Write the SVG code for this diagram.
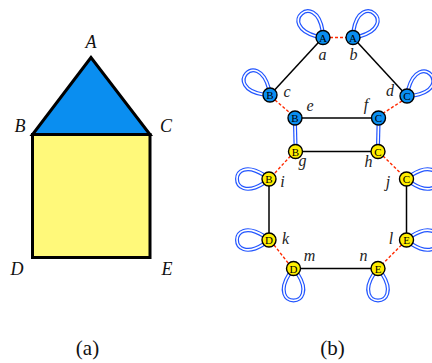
<svg xmlns="http://www.w3.org/2000/svg" xmlns:xlink="http://www.w3.org/1999/xlink" width="432" height="363" viewBox="0 0 432 363">
<style>
.lbl{font-family:"Liberation Serif","DejaVu Serif",serif;font-style:italic;font-size:18px;fill:#111;text-anchor:middle}
.sl{font-family:"Liberation Serif","DejaVu Serif",serif;font-style:italic;font-size:16px;fill:#222;text-anchor:middle}
.cap{font-family:"Liberation Serif","DejaVu Serif",serif;font-size:21px;fill:#111;text-anchor:middle}
.nt{font-family:"Liberation Serif","DejaVu Serif",serif;font-size:11px;fill:#000;text-anchor:middle}
.nb{fill:#0a8ef0;stroke:#000;stroke-width:1.4}
.ny{fill:#ffee00;stroke:#000;stroke-width:1.4}
.edge{stroke:#000;stroke-width:1.5;fill:none}
.dash{stroke:#ff2a00;stroke-width:1.4;stroke-dasharray:3,2;fill:none}
.lo{stroke:#2255ff;stroke-width:4;fill:none}
.li{stroke:#fff;stroke-width:1.6;fill:none}
</style>
<defs>
<path id="loop" d="M -4,-5 C -27,-41 27,-41 4,-5"/>
</defs>
<g id="house">
<polygon points="91,57.5 32.5,134.5 150,134.5" fill="#0a8ef0" stroke="#000" stroke-width="3" stroke-linejoin="miter"/>
<rect x="32.5" y="134.5" width="117.5" height="123" fill="#fff97a" stroke="#000" stroke-width="3"/>
<text class="lbl" x="91" y="48">A</text>
<text class="lbl" x="20" y="132">B</text>
<text class="lbl" x="166" y="132">C</text>
<text class="lbl" x="17" y="275">D</text>
<text class="lbl" x="167" y="275">E</text>
</g>
<g id="loops">
<g transform="translate(323,37.5) rotate(-42)"><use xlink:href="#loop" class="lo"/><use xlink:href="#loop" class="li"/></g>
<g transform="translate(353,37.5) rotate(42)"><use xlink:href="#loop" class="lo"/><use xlink:href="#loop" class="li"/></g>
<g transform="translate(270,95) rotate(-48)"><use xlink:href="#loop" class="lo"/><use xlink:href="#loop" class="li"/></g>
<g transform="translate(407,96) rotate(48)"><use xlink:href="#loop" class="lo"/><use xlink:href="#loop" class="li"/></g>
<g transform="translate(269,179) rotate(-90)"><use xlink:href="#loop" class="lo"/><use xlink:href="#loop" class="li"/></g>
<g transform="translate(269,240) rotate(-90)"><use xlink:href="#loop" class="lo"/><use xlink:href="#loop" class="li"/></g>
<g transform="translate(406.5,179) rotate(90)"><use xlink:href="#loop" class="lo"/><use xlink:href="#loop" class="li"/></g>
<g transform="translate(406.5,240) rotate(90)"><use xlink:href="#loop" class="lo"/><use xlink:href="#loop" class="li"/></g>
<g transform="translate(293.5,268.5) rotate(180)"><use xlink:href="#loop" class="lo"/><use xlink:href="#loop" class="li"/></g>
<g transform="translate(378,268.5) rotate(180)"><use xlink:href="#loop" class="lo"/><use xlink:href="#loop" class="li"/></g>
</g>
<g id="connectors">
<line class="edge" x1="323" y1="37.5" x2="270" y2="95"/>
<line class="edge" x1="353" y1="37.5" x2="407" y2="96"/>
<line class="edge" x1="295" y1="118" x2="378.5" y2="118"/>
<line class="edge" x1="295.5" y1="151.5" x2="378" y2="151.5"/>
<line class="edge" x1="269" y1="179" x2="269" y2="240"/>
<line class="edge" x1="406.5" y1="179" x2="406.5" y2="240"/>
<line class="edge" x1="293.5" y1="268.5" x2="378" y2="268.5"/>
<line class="dash" x1="330" y1="37.5" x2="346" y2="37.5"/>
<line class="dash" x1="275" y1="100" x2="290" y2="113"/>
<line class="dash" x1="402" y1="101" x2="383.5" y2="113"/>
<line class="dash" x1="290.5" y1="156" x2="274" y2="174"/>
<line class="dash" x1="383" y1="156" x2="401.5" y2="174"/>
<line class="dash" x1="274" y1="245" x2="288.5" y2="263.5"/>
<line class="dash" x1="401.5" y1="245" x2="383" y2="263.5"/>
<line class="lo" x1="295" y1="125" x2="295.5" y2="145"/>
<line class="li" x1="295" y1="125" x2="295.5" y2="145"/>
<line class="lo" x1="378.5" y1="125" x2="378" y2="145"/>
<line class="li" x1="378.5" y1="125" x2="378" y2="145"/>
</g>
<g id="nA1"><circle class="nb" cx="323" cy="37.5" r="7"/><text class="nt" x="323" y="41.5">A</text></g>
<g id="nA2"><circle class="nb" cx="353" cy="37.5" r="7"/><text class="nt" x="353" y="41.5">A</text></g>
<g id="nB1"><circle class="nb" cx="270" cy="95" r="7"/><text class="nt" x="270" y="99">B</text></g>
<g id="nC1"><circle class="nb" cx="407" cy="96" r="7"/><text class="nt" x="407" y="100">C</text></g>
<g id="nB2"><circle class="nb" cx="295" cy="118" r="7"/><text class="nt" x="295" y="122">B</text></g>
<g id="nC2"><circle class="nb" cx="378.5" cy="118" r="7"/><text class="nt" x="378.5" y="122">C</text></g>
<g id="nB3"><circle class="ny" cx="295.5" cy="151.5" r="7"/><text class="nt" x="295.5" y="155.5">B</text></g>
<g id="nC3"><circle class="ny" cx="378" cy="151.5" r="7"/><text class="nt" x="378" y="155.5">C</text></g>
<g id="nB4"><circle class="ny" cx="269" cy="179" r="7"/><text class="nt" x="269" y="183">B</text></g>
<g id="nC4"><circle class="ny" cx="406.5" cy="179" r="7"/><text class="nt" x="406.5" y="183">C</text></g>
<g id="nD1"><circle class="ny" cx="269" cy="240" r="7"/><text class="nt" x="269" y="244">D</text></g>
<g id="nE1"><circle class="ny" cx="406.5" cy="240" r="7"/><text class="nt" x="406.5" y="244">E</text></g>
<g id="nD2"><circle class="ny" cx="293.5" cy="268.5" r="7"/><text class="nt" x="293.5" y="272.5">D</text></g>
<g id="nE2"><circle class="ny" cx="378" cy="268.5" r="7"/><text class="nt" x="378" y="272.5">E</text></g>
<g id="labels">
<text class="sl" x="322.5" y="59.5">a</text>
<text class="sl" x="353.5" y="60">b</text>
<text class="sl" x="287" y="96.5">c</text>
<text class="sl" x="390" y="96">d</text>
<text class="sl" x="310" y="110.5">e</text>
<text class="sl" x="366" y="110">f</text>
<text class="sl" x="302.5" y="166">g</text>
<text class="sl" x="368.5" y="167">h</text>
<text class="sl" x="282.5" y="186.5">i</text>
<text class="sl" x="388" y="186.5">j</text>
<text class="sl" x="285.5" y="243.5">k</text>
<text class="sl" x="391" y="243.5">l</text>
<text class="sl" x="309.5" y="260.5">m</text>
<text class="sl" x="363.5" y="260.5">n</text>
</g>
<text class="cap" x="87.5" y="355">(a)</text>
<text class="cap" x="332.5" y="355">(b)</text>
</svg>
